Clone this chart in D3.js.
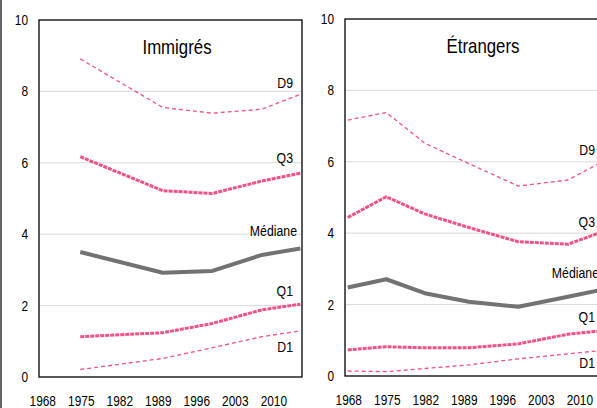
<!DOCTYPE html>
<html>
<head>
<meta charset="utf-8">
<script src="https://cdn.jsdelivr.net/npm/d3@7"></script>
<style>
  body { margin: 0; background: #fff; }
  svg { display: block; font-family: 'Liberation Sans', sans-serif; }
</style>
</head>
<body>
<div id="chart"></div>
<script>
// Data
const xTicks = [1968, 1975, 1982, 1989, 1996, 2003, 2010]
const yTicks = [0, 2, 4, 6, 8, 10]
const seriesNames = ['D9', 'Q3', 'Médiane', 'Q1', 'D1']

const immYears = [1975, 1990, 1999, 2008, 2015]
const immD9 = [8.91, 7.55, 7.39, 7.5, 7.92]
const immQ3 = [6.17, 5.22, 5.14, 5.49, 5.71]
const immMed = [3.5, 2.92, 2.97, 3.42, 3.6]
const immQ1 = [1.13, 1.24, 1.5, 1.88, 2.04]
const immD1 = [0.21, 0.52, 0.82, 1.13, 1.29]

const etrYears = [1968, 1975, 1982, 1990, 1999, 2008, 2015]
const etrD9 = [7.17, 7.38, 6.52, 5.95, 5.32, 5.49, 6.06]
const etrQ3 = [4.44, 5.02, 4.54, 4.16, 3.76, 3.69, 4.08]
const etrMed = [2.48, 2.71, 2.32, 2.08, 1.94, 2.22, 2.44]
const etrQ1 = [0.73, 0.82, 0.79, 0.79, 0.9, 1.17, 1.28]
const etrD1 = [0.14, 0.12, 0.21, 0.31, 0.48, 0.62, 0.73]

// where the series names sit (in y units)
const immLabelAt = [8.24, 6.13, 4.09, 2.41, 0.84]
const etrLabelAt = [6.33, 4.31, 2.89, 1.65, 0.36]

// Styles
const pink = '#ef5188'
const styles = [
  { stroke: pink, width: 1.3, dash: '4,3' },
  { stroke: pink, width: 3, dash: '4,1' },
  { stroke: '#727272', width: 4, dash: null },
  { stroke: pink, width: 3, dash: '4,1' },
  { stroke: pink, width: 1.3, dash: '4,3' },
]
const squeeze = 0.82 // narrow the sans glyphs, like Calibri

const width = 597
const height = 408

const svg = d3.select('#chart')
  .append('svg')
  .attr('width', width)
  .attr('height', height)

// outer border line on the left
svg.append('line')
  .attr('x1', 1).attr('x2', 1)
  .attr('y1', 0).attr('y2', height)
  .attr('stroke', '#333')
  .attr('stroke-width', 1.5)

// text placed at (x, y) and narrowed horizontally
function addText(parent, x, y, str, size, anchor) {
  return parent.append('text')
    .attr('transform', `translate(${x},${y}) scale(${squeeze},1)`)
    .attr('dy', '0.35em')
    .attr('text-anchor', anchor)
    .attr('font-size', size)
    .attr('fill', '#000')
    .text(str)
}

function panel(opts) {
  const { left, top, title, years, series, labelAt, labelEnd } = opts
  const w = 263
  const h = 357

  const xScale = d3.scaleLinear()
    .domain([1967.5, 2015.3])
    .range([left, left + w])

  const yScale = d3.scaleLinear()
    .domain([0, 10])
    .range([top + h, top])

  const g = svg.append('g')

  // gridlines
  g.append('g')
    .selectAll('line')
    .data(yTicks.filter((d) => d > 0 && d < 10))
    .join('line')
    .attr('x1', left)
    .attr('x2', left + w)
    .attr('y1', (d) => yScale(d))
    .attr('y2', (d) => yScale(d))
    .attr('stroke', '#d9d9d9')
    .attr('stroke-width', 1)

  // y axis labels
  yTicks.forEach((t) => addText(g, left - 11, yScale(t), t, 14.5, 'end'))

  // x axis labels
  xTicks.forEach((t) => addText(g, xScale(t) + 1, top + h + 24, t, 14.5, 'middle'))

  // clip for lines
  const clipId = 'clip' + left
  svg.append('clipPath').attr('id', clipId)
    .append('rect')
    .attr('x', left).attr('y', top)
    .attr('width', w).attr('height', h)

  const line = d3.line()
    .x((d) => xScale(d[0]))
    .y((d) => yScale(d[1]))

  series.forEach((vals, i) => {
    const s = styles[i]
    g.append('path')
      .datum(years.map((y, j) => [y, vals[j]]))
      .attr('d', line)
      .attr('fill', 'none')
      .attr('stroke', s.stroke)
      .attr('stroke-width', s.width)
      .attr('stroke-dasharray', s.dash)
      .attr('stroke-linejoin', 'round')
      .attr('clip-path', `url(#${clipId})`)
  })

  // series names ("Médiane" sits a little further right)
  seriesNames.forEach((name, i) => {
    const x = left + labelEnd + (name === 'Médiane' ? 4 : 0)
    addText(g, x, yScale(labelAt[i]), name, 15, 'end')
  })

  // title
  addText(g, left + 138, top + 27, title, 20.5, 'middle')

  // frame
  g.append('rect')
    .attr('x', left).attr('y', top)
    .attr('width', w).attr('height', h)
    .attr('fill', 'none')
    .attr('stroke', '#000')
    .attr('stroke-width', 1.3)
}

panel({
  left: 39, top: 20, title: 'Immigrés', years: immYears,
  series: [immD9, immQ3, immMed, immQ1, immD1], labelAt: immLabelAt, labelEnd: 254,
})

panel({
  left: 345, top: 19, title: 'Étrangers', years: etrYears,
  series: [etrD9, etrQ3, etrMed, etrQ1, etrD1], labelAt: etrLabelAt, labelEnd: 250,
})
</script>
</body>
</html>
